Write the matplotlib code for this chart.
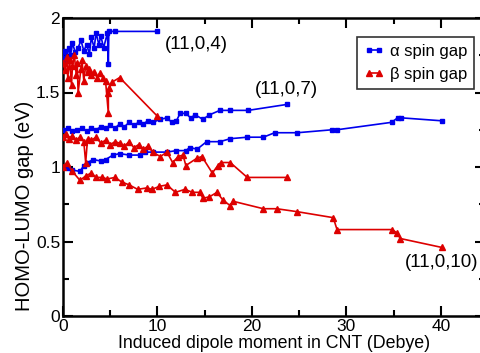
import matplotlib
matplotlib.use("Agg")
import matplotlib.pyplot as plt
from matplotlib.ticker import MultipleLocator

plt.rcParams['font.family'] = ['Liberation Sans', 'DejaVu Sans']

# (11,0,4)
alpha_4_x = [0, 0.2, 0.4, 0.6, 0.8, 1.0, 1.3, 1.6, 1.9, 2.2, 2.5, 2.8, 3.0, 3.3, 3.5, 3.8, 4.0, 4.3, 4.7, 4.8, 4.85, 5.5, 10.0]
alpha_4_y = [1.73, 1.78, 1.72, 1.80, 1.75, 1.83, 1.77, 1.80, 1.85, 1.78, 1.82, 1.76, 1.87, 1.80, 1.90, 1.82, 1.88, 1.80, 1.90, 1.69, 1.91, 1.91, 1.91]
beta_4_x = [0, 0.2, 0.4, 0.5, 0.7, 0.9, 1.0, 1.2, 1.4, 1.5, 1.6, 1.9, 2.0, 2.2, 2.4, 2.6, 2.8, 3.0, 3.3, 3.6, 3.9, 4.2, 4.5, 4.8, 4.8, 4.9, 5.2, 6.0, 10.0]
beta_4_y = [1.70, 1.65, 1.74, 1.60, 1.72, 1.55, 1.68, 1.75, 1.62, 1.70, 1.50, 1.66, 1.72, 1.58, 1.68, 1.64, 1.66, 1.62, 1.64, 1.60, 1.63, 1.60, 1.58, 1.36, 1.50, 1.53, 1.57, 1.60, 1.34]

# (11,0,7)
alpha_7_x = [0, 0.5, 1.0, 1.5, 2.0, 2.5, 3.0, 3.5, 4.0, 4.5, 5.0, 5.5, 6.0, 6.5, 7.0, 7.5, 8.0, 8.5, 9.0, 9.5, 10.3, 11.0, 11.5, 12.0, 12.4, 13.0, 13.5, 14.0, 14.8, 15.5, 16.6, 17.7, 19.6, 23.7]
alpha_7_y = [1.25, 1.26, 1.24, 1.25, 1.26, 1.24, 1.26, 1.25, 1.27, 1.26, 1.28, 1.26, 1.29, 1.27, 1.30, 1.28, 1.30, 1.29, 1.31, 1.30, 1.32, 1.33, 1.30, 1.31, 1.36, 1.36, 1.33, 1.35, 1.32, 1.35, 1.38, 1.38, 1.38, 1.42]
beta_7_x = [0, 0.3, 0.6, 1.0, 1.4, 1.8, 2.2, 2.4, 2.6, 3.0, 3.5, 4.0, 4.5, 5.0, 5.5, 6.0, 6.5, 7.0, 7.5, 8.0, 8.5, 9.0, 9.5, 10.3, 11.0, 11.6, 12.2, 12.7, 13.0, 14.2, 14.7, 15.8, 16.4, 16.7, 17.7, 19.5, 23.7]
beta_7_y = [1.20, 1.22, 1.19, 1.21, 1.18, 1.20, 1.17, 1.03, 1.19, 1.18, 1.20, 1.16, 1.18, 1.15, 1.17, 1.16, 1.14, 1.17, 1.13, 1.15, 1.12, 1.14, 1.10, 1.07, 1.10, 1.03, 1.07, 1.08, 1.01, 1.06, 1.07, 0.96, 1.01, 1.03, 1.03, 0.93, 0.93]

# (11,0,10)
alpha_10_x = [0, 0.5, 1.0, 1.8, 2.2, 2.6, 3.2, 4.0, 4.5, 5.3, 6.0, 7.0, 8.1, 8.7, 9.5, 11.0, 12.0, 13.0, 13.4, 14.2, 15.2, 16.6, 17.7, 19.5, 21.2, 22.4, 24.8, 28.5, 29.0, 34.8, 35.4, 35.8, 40.1]
alpha_10_y = [1.00, 0.99, 0.98, 0.97, 1.01, 1.03, 1.05, 1.04, 1.05, 1.08, 1.09, 1.08, 1.08, 1.10, 1.10, 1.10, 1.11, 1.11, 1.13, 1.12, 1.17, 1.17, 1.19, 1.20, 1.20, 1.23, 1.23, 1.25, 1.25, 1.30, 1.33, 1.33, 1.31]
beta_10_x = [0, 0.4, 1.0, 1.8, 2.4, 3.0, 3.5, 4.1, 4.7, 5.5, 6.2, 7.0, 7.9, 8.9, 9.4, 10.2, 11.0, 11.9, 12.9, 13.7, 14.5, 14.8, 15.5, 16.3, 16.9, 17.7, 18.0, 21.2, 22.6, 24.8, 28.6, 29.0, 34.8, 35.3, 35.7, 40.1]
beta_10_y = [1.00, 1.03, 0.97, 0.91, 0.94, 0.96, 0.93, 0.93, 0.92, 0.93, 0.90, 0.88, 0.85, 0.86, 0.85, 0.87, 0.88, 0.83, 0.85, 0.83, 0.83, 0.79, 0.80, 0.83, 0.78, 0.74, 0.77, 0.72, 0.72, 0.70, 0.66, 0.58, 0.58, 0.56, 0.52, 0.46]

labels = ["(11,0,4)", "(11,0,7)", "(11,0,10)"]
legend_labels = ["\u03b1 spin gap", "\u03b2 spin gap"]

BLUE = "#0000ee"
RED = "#dd0000"

fig = plt.figure(figsize=(4.81, 3.53), dpi=100)
ax = fig.add_axes([63/481, 37/353, 422/481, 298/353])

alphas = [(alpha_4_x, alpha_4_y), (alpha_7_x, alpha_7_y), (alpha_10_x, alpha_10_y)]
betas = [(beta_4_x, beta_4_y), (beta_7_x, beta_7_y), (beta_10_x, beta_10_y)]
for i, (x, y) in enumerate(alphas):
    ax.plot(x, y, color=BLUE, lw=1.2, marker='s', ms=3.2, mec=BLUE, mfc=BLUE,
            label=legend_labels[0] if i == 0 else None, zorder=3)
for i, (x, y) in enumerate(betas):
    ax.plot(x, y, color=RED, lw=1.2, marker='^', ms=4.2, mec=RED, mfc=RED,
            label=legend_labels[1] if i == 0 else None, zorder=3)

ax.set_xlim(0, 44.66)
ax.set_ylim(0, 2)
ax.xaxis.set_major_locator(MultipleLocator(10))
ax.xaxis.set_minor_locator(MultipleLocator(5))
ax.yaxis.set_minor_locator(MultipleLocator(0.25))
ax.set_yticks([0, 0.5, 1, 1.5, 2])
ax.set_yticklabels(["0", "0.5", "1", "1.5", "2"])
ax.tick_params(which='both', direction='in', top=True, right=True, width=1.5, labelsize=12.5, pad=2)
ax.tick_params(which='major', length=7)
ax.tick_params(which='minor', length=4)
for s in ax.spines.values():
    s.set_linewidth(1.8)

ax.set_xlabel("Induced dipole moment in CNT (Debye)", fontsize=12.8)
ax.xaxis.label.set_va('bottom')
ax.xaxis.set_label_coords(0.5, -36.0/298)
ax.set_ylabel("HOMO-LUMO gap (eV)", fontsize=14.5)
ax.yaxis.label.set_va('center')
ax.yaxis.set_label_coords(-38.0/422, (316 - 206) / 298)

ax.text(10.8, 1.82, labels[0], fontsize=13.5, va='center', ha='left')
ax.text(20.3, 1.52, labels[1], fontsize=13.5, va='center', ha='left')
ax.text(36.2, 0.36, labels[2], fontsize=13.5, va='center', ha='left')

leg = ax.legend(loc='upper left', bbox_to_anchor=(294/422, 1 - 19/298), fontsize=12,
                numpoints=2, frameon=True, fancybox=False, handlelength=1.2,
                handletextpad=0.4, borderpad=0.4, labelspacing=0.5, borderaxespad=0)
leg.get_frame().set_edgecolor('black')
leg.get_frame().set_linewidth(1.2)
leg.set_zorder(5)

fig.savefig("out.png", dpi=100)
